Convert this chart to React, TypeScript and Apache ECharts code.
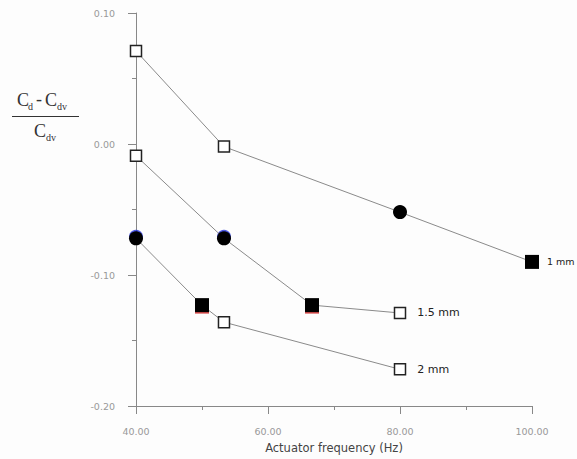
import React, { useEffect, useRef } from "react";
import * as echarts from "echarts";

const xTicks = [40, 60, 80, 100];
const yTicks = [-0.2, -0.1, 0.0, 0.1];

const seriesNames = ["1 mm", "1.5 mm", "2 mm"];
const freq1 = [40, 53.33, 80, 100];
const cd1 = [0.071, -0.002, -0.052, -0.09];
const sym1 = ["open", "open", "circle", "square"];

const freq15 = [40, 53.33, 66.67, 80];
const cd15 = [-0.009, -0.072, -0.123, -0.129];
const sym15 = ["open", "circle", "square", "open"];

const freq2 = [40, 50, 53.33, 80];
const cd2 = [-0.072, -0.123, -0.136, -0.172];
const sym2 = ["circle", "square", "open", "open"];

// coloured fringes visible under some filled markers
const blueFringe = [[40, -0.072], [53.33, -0.072]];
const redFringe = [[50, -0.123], [66.67, -0.123]];

const sans = "DejaVu Sans, Verdana, sans-serif";

function buildSeries(name: string, xs: number[], ys: number[], syms: string[], labelSize: number, labelDist: number) {
  const data = xs.map((x, i) => {
    const s = syms[i];
    const item: any = { value: [x, ys[i]] };
    if (s === "open") {
      item.symbol = "rect";
      item.symbolSize = 11;
      item.itemStyle = { color: "#ffffff", borderColor: "#222", borderWidth: 1.5 };
    } else if (s === "circle") {
      item.symbol = "circle";
      item.symbolSize = 14;
      item.itemStyle = { color: "#000", borderColor: "#000", borderWidth: 0 };
    } else {
      item.symbol = "rect";
      item.symbolSize = 14;
      item.itemStyle = { color: "#000", borderColor: "#000", borderWidth: 0 };
    }
    if (i === xs.length - 1) {
      item.label = {
        show: true,
        position: "right",
        distance: labelDist,
        formatter: name,
        fontFamily: sans,
        fontSize: labelSize,
        color: "#222",
      };
    }
    return item;
  });
  return {
    type: "line",
    name,
    data,
    lineStyle: { color: "#8a8a8a", width: 1 },
    itemStyle: { color: "#000" },
    emphasis: { disabled: true },
    z: 3,
  };
}

export default function App() {
  const ref = useRef<HTMLDivElement>(null);
  useEffect(() => {
    if (!ref.current) return;
    const chart = echarts.init(ref.current, undefined, { renderer: "svg" });
    const tickLabel = {
      color: "#999",
      fontSize: 9.5,
      fontFamily: sans,
    };
    const serif = "Liberation Serif, Times New Roman, serif";
    chart.setOption({
      animation: false,
      backgroundColor: "#fdfdfd",
      grid: { left: 136, right: 45, top: 13, bottom: 52, containLabel: false },
      xAxis: {
        type: "value",
        min: xTicks[0],
        max: xTicks[xTicks.length - 1],
        interval: 20,
        name: "Actuator frequency (Hz)",
        nameLocation: "middle",
        nameGap: 36,
        nameTextStyle: { color: "#444", fontSize: 11.5, fontFamily: sans },
        axisLine: { onZero: false, lineStyle: { color: "#888", width: 1 } },
        axisTick: { show: true, length: 8, lineStyle: { color: "#888" } },
        minorTick: { show: true, splitNumber: 2, length: 4, lineStyle: { color: "#888" } },
        splitLine: { show: false },
        axisLabel: { ...tickLabel, margin: 20, formatter: (v: number) => v.toFixed(2) },
      },
      yAxis: {
        type: "value",
        min: yTicks[0],
        max: yTicks[yTicks.length - 1],
        interval: 0.1,
        axisLine: { show: true, onZero: false, lineStyle: { color: "#888", width: 1 } },
        axisTick: { show: true, length: 8, lineStyle: { color: "#888" } },
        minorTick: { show: true, splitNumber: 2, length: 4, lineStyle: { color: "#888" } },
        splitLine: { show: false },
        axisLabel: { ...tickLabel, margin: 21, formatter: (v: number) => v.toFixed(2) },
      },
      series: [
        {
          type: "scatter",
          data: blueFringe,
          symbol: "circle",
          symbolSize: 14,
          symbolOffset: [0, -1.5],
          itemStyle: { color: "#2030e0" },
          emphasis: { disabled: true },
          z: 2,
        },
        {
          type: "scatter",
          data: redFringe,
          symbol: "rect",
          symbolSize: 14,
          symbolOffset: [0, 1.5],
          itemStyle: { color: "#d02020" },
          emphasis: { disabled: true },
          z: 2,
        },
        buildSeries(seriesNames[0], freq1, cd1, sym1, 9.5, 8),
        buildSeries(seriesNames[1], freq15, cd15, sym15, 11, 11),
        buildSeries(seriesNames[2], freq2, cd2, sym2, 11, 11),
      ],
      graphic: [
        { type: "text", left: 17, top: 91, style: { text: "C", font: `18px ${serif}`, fill: "#333" } },
        { type: "text", left: 28, top: 101, style: { text: "d", font: `10px ${serif}`, fill: "#333" } },
        { type: "text", left: 36, top: 90, style: { text: "-", font: `18px ${serif}`, fill: "#333" } },
        { type: "text", left: 45, top: 91, style: { text: "C", font: `18px ${serif}`, fill: "#333" } },
        { type: "text", left: 57, top: 101, style: { text: "dv", font: `10px ${serif}`, fill: "#333" } },
        { type: "rect", shape: { x: 12, y: 116, width: 67, height: 1 }, style: { fill: "#333" } },
        { type: "text", left: 34, top: 122, style: { text: "C", font: `18px ${serif}`, fill: "#333" } },
        { type: "text", left: 46, top: 132, style: { text: "dv", font: `10px ${serif}`, fill: "#333" } },
      ],
    });
    return () => chart.dispose();
  }, []);
  return (
    <div
      ref={ref}
      style={{ position: "fixed", left: 0, top: 0, width: 577, height: 459 }}
    />
  );
}
